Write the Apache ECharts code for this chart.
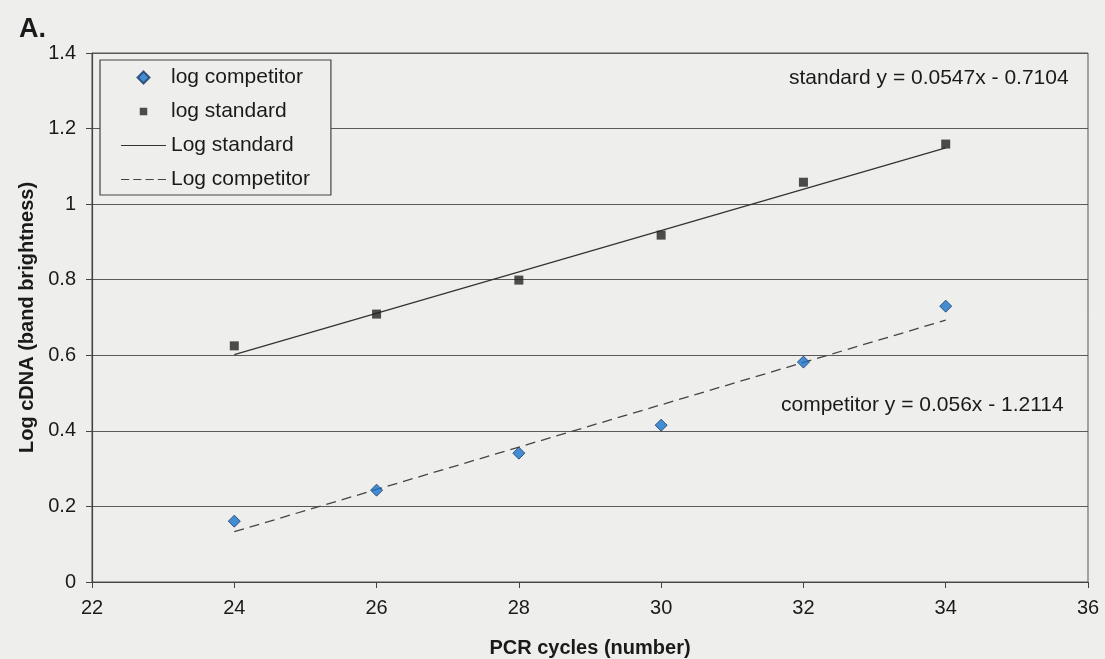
<!DOCTYPE html>
<html><head><meta charset="utf-8">
<script src="https://cdn.jsdelivr.net/npm/echarts@6/dist/echarts.min.js"></script>
<style>html,body{margin:0;padding:0;background:#eeeeec;}#c{width:1105px;height:659px;}</style>
</head><body><div id="c"></div>
<script>
const cycles = [24, 26, 28, 30, 32, 34];
const logCompetitor = [0.161, 0.243, 0.341, 0.415, 0.582, 0.730];
const logStandard = [0.625, 0.709, 0.799, 0.918, 1.058, 1.159];
const trendStandard = [[24, 0.602], [34, 1.149]];
const trendCompetitor = [[24, 0.133], [34, 0.693]];
const xTicks = [22, 24, 26, 28, 30, 32, 34, 36];
const yTicks = ['0', '0.2', '0.4', '0.6', '0.8', '1', '1.2', '1.4'];
const eqStandard = 'standard y = 0.0547x - 0.7104';
const eqCompetitor = 'competitor y = 0.056x - 1.2114';

const font = 'Liberation Sans, Arial, sans-serif';
const iconDiamond = 'path://M0,-1L1,0L0,1L-1,0Z';
const iconSquare = 'path://M-1,-1L1,-1L1,1L-1,1Z M0,-1.6L0.001,-1.6L0,-1.6Z M0,1.6L0.001,1.6L0,1.6Z';
const iconSolid = 'path://M0,0L44,0L44,1.1L0,1.1Z';
const iconDashed = 'path://M0,0h8v1.1h-8Z M12,0h8v1.1h-8Z M24,0h8v1.1h-8Z M36,0h8v1.1h-8Z';

const chart = echarts.init(document.getElementById('c'));
chart.setOption({
  backgroundColor: '#eeeeec',
  animation: false,
  grid: { left: 92, right: 17, top: 53, bottom: 77, outerBoundsMode: 'none', containLabel: false,
    show: true, borderColor: '#555', borderWidth: 1, backgroundColor: 'transparent' },
  xAxis: {
    type: 'value', min: 22, max: 36, interval: 2,
    name: 'PCR cycles (number)', nameLocation: 'middle', nameGap: 56,
    nameTextStyle: { fontFamily: font, fontWeight: 'bold', fontSize: 20, color: '#1a1a1a' },
    axisLine: { show: true, lineStyle: { color: '#444', width: 1.2 } },
    axisTick: { show: true, length: 6, lineStyle: { color: '#444' } },
    axisLabel: { fontFamily: font, fontSize: 20, color: '#1a1a1a', margin: 16,
      formatter: v => xTicks.includes(v) ? String(v) : '' },
    splitLine: { show: false }
  },
  yAxis: {
    type: 'value', min: 0, max: 1.4, interval: 0.2,
    name: 'Log cDNA (band brightness)', nameLocation: 'middle', nameGap: 52,
    nameTextStyle: { fontFamily: font, fontWeight: 'bold', fontSize: 20, color: '#1a1a1a' },
    axisLine: { show: true, lineStyle: { color: '#444', width: 1.2 } },
    axisTick: { show: true, length: 6, lineStyle: { color: '#444' } },
    axisLabel: { fontFamily: font, fontSize: 20, color: '#1a1a1a', margin: 16,
      formatter: v => { const s = String(+v.toFixed(1)); return yTicks.includes(s) ? s : ''; } },
    splitLine: { show: true, lineStyle: { color: '#5a5a5a', width: 1 } }
  },
  legend: {
    orient: 'vertical', left: 100, top: 60,
    backgroundColor: '#eeeeec',
    borderColor: '#444', borderWidth: 1.2, borderRadius: 0,
    padding: [7, 21, 5, 21],
    itemWidth: 45, itemHeight: 12, itemGap: 13,
    symbolKeepAspect: true,
    textStyle: { fontFamily: font, fontSize: 21, color: '#1a1a1a' },
    data: [
      { name: 'log competitor', icon: iconDiamond },
      { name: 'log standard', icon: iconSquare },
      { name: 'Log standard', icon: iconSolid },
      { name: 'Log competitor', icon: iconDashed }
    ]
  },
  graphic: [
    { type: 'text', left: 19, top: 16, style: { text: 'A.', fontFamily: font, fontSize: 27, fontWeight: 'bold', fill: '#1a1a1a' } },
    { type: 'text', left: 789, top: 68, style: { text: eqStandard, fontFamily: font, fontSize: 21, fill: '#1a1a1a' } },
    { type: 'text', left: 781, top: 395, style: { text: eqCompetitor, fontFamily: font, fontSize: 21, fill: '#1a1a1a' } }
  ],
  series: [
    { name: 'log competitor', type: 'scatter', symbol: 'diamond', symbolSize: 12,
      itemStyle: { color: '#1a74cc', borderColor: '#1a3a66', borderWidth: 1 },
      data: cycles.map((c, i) => [c, logCompetitor[i]]), z: 5 },
    { name: 'log standard', type: 'scatter', symbol: 'rect', symbolSize: 9,
      itemStyle: { color: '#222' },
      data: cycles.map((c, i) => [c, logStandard[i]]), z: 5 },
    { name: 'Log standard', type: 'line', symbol: 'none', data: trendStandard,
      lineStyle: { color: '#333', width: 1.3, type: 'solid' }, itemStyle: { color: '#333' } },
    { name: 'Log competitor', type: 'line', symbol: 'none', data: trendCompetitor,
      lineStyle: { color: '#444', width: 1.3, type: [10, 6] }, itemStyle: { color: '#444' } }
  ]
});
</script></body></html>
